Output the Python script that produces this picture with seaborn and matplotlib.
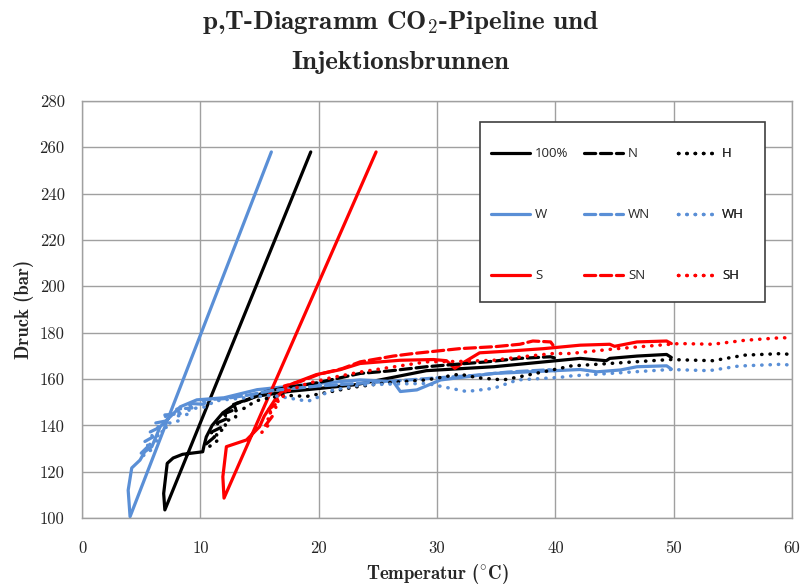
import seaborn as sns
import matplotlib.pyplot as plt
from matplotlib.lines import Line2D
from matplotlib.patches import Rectangle

# Pipeline / well curves (temperature in °C, pressure in bar)
t_100 = [49.8, 49.4, 46.9, 44.6, 44.3, 42.1, 34.8, 29.1, 23.2, 20.4, 17.6, 14.8, 13.1, 11.9, 11.0, 10.5, 10.3, 10.2, 8.5, 7.7, 7.2, 6.9, 7.0, 19.33]
p_100 = [169.3, 170.6, 169.9, 168.9, 167.9, 168.9, 165.3, 163.6, 157.6, 156.1, 154.7, 152.6, 149.6, 145.4, 140, 135, 131, 128.6, 127.5, 125.9, 123.6, 110.6, 103.5, 258]

t_n = [10.5, 11.2, 10.9, 11.7, 11.4, 12.3, 12.0, 13.0, 12.8, 14.0, 15.5, 17.0, 20.0, 23.5, 26.0, 29.1, 32.0, 34.2, 37.0, 39.6, 40.0]
p_n = [132, 135, 137, 139, 141, 143, 145, 147, 149, 151, 154.5, 156, 158.5, 162.4, 163.5, 165.3, 166.5, 167.4, 168.9, 169.6, 169.0]

t_h = [10.8, 11.6, 11.3, 12.2, 12.0, 13.0, 12.8, 13.8, 14.5, 15.0, 17.0, 19.0, 21.0, 23.0, 26.0, 29.1, 31.9, 33.5, 35.6, 37.0, 40.4, 41.25, 49.7, 53.3, 56.0, 59.3, 60.0]
p_h = [131, 134, 136.5, 139, 141.5, 143.5, 146, 147.5, 150, 151, 153, 152.5, 154.5, 156.5, 158.5, 159.6, 162.1, 160.5, 159.6, 161, 164.6, 165.6, 168.4, 167.9, 170.3, 171, 170.3]

t_w = [49.8, 49.4, 46.9, 45.5, 43.5, 42.1, 34.8, 30.3, 28.3, 26.9, 26.3, 23.5, 20.4, 17.6, 14.8, 12.0, 9.7, 8.3, 6.6, 5.9, 5.3, 4.9, 4.2, 3.9, 4.06, 16.0]
p_w = [164.3, 165.7, 165.3, 163.9, 163.1, 164.1, 162.4, 159.6, 155.3, 154.6, 158.9, 159.6, 158.3, 156.9, 155.4, 151.9, 151, 148, 139.4, 130.8, 128.6, 125, 121.6, 112, 100.6, 258]

t_wn = [5.0, 5.6, 5.3, 6.0, 5.7, 6.5, 6.2, 7.2, 7.0, 8.3, 8.0, 9.3, 9.0, 10.5, 10.2, 12.0, 14.0, 16.0, 18.0, 20.0, 23.0, 26.0, 30.0, 33.0, 36.0, 39.5, 40.0]
p_wn = [128, 131, 133, 135, 137, 139, 141, 142, 144.5, 145, 147, 147.5, 149.5, 149, 151, 151.5, 153, 155, 156, 157, 158, 159, 160.5, 161.5, 163, 164, 163.5]

t_wh = [5.2, 6.0, 5.7, 6.6, 6.3, 7.2, 7.0, 8.2, 8.0, 9.2, 9.0, 10.5, 11.2, 12.0, 14.0, 16.0, 18.4, 19.0, 19.5, 21.0, 23.5, 26.0, 29.1, 32.5, 34.8, 36.8, 40.4, 41.25, 49.7, 53.0, 55.5, 59.3, 60.0]
p_wh = [127, 130, 132, 134, 136.5, 138, 140.5, 142, 144, 145, 147, 148, 150.5, 151, 152, 153, 151, 150.4, 151, 155, 157.4, 157.8, 158.1, 154.6, 156, 159.6, 160.7, 161.3, 164.1, 163.6, 165.6, 166.4, 165.7]

t_s = [49.8, 49.4, 46.9, 45.0, 44.6, 42.1, 39.0, 36.2, 33.6, 32.2, 31.5, 30.8, 29.7, 26.9, 23.5, 21.8, 19.8, 17.6, 16.5, 15.4, 15.0, 13.9, 12.2, 11.9, 12.0, 24.85]
p_s = [175.3, 176.4, 176, 174.1, 175, 174.6, 173.1, 172.1, 171.3, 167, 164.6, 167.9, 168.4, 168.1, 166.7, 164, 161.9, 157.6, 152.6, 144, 139.4, 133.7, 130.8, 117.8, 108.6, 258]

t_sn = [15.5, 16.1, 15.8, 16.6, 16.4, 17.3, 17.1, 18.5, 20.0, 22.0, 23.5, 26.3, 28.0, 31.9, 35.0, 37.0, 38.1, 39.6, 39.8]
p_sn = [140, 144, 147, 150, 152.5, 155, 157, 159, 162, 164.5, 167.4, 169.9, 171, 173.1, 174, 175, 176.4, 176, 174.6]

t_sh = [15.2, 15.9, 15.6, 16.4, 16.2, 17.0, 17.5, 19.0, 21.0, 23.5, 26.0, 29.1, 32.0, 34.8, 37.0, 39.8, 41.25, 45, 49.7, 50.5, 53.3, 56.0, 59.3, 59.9]
p_sh = [137, 141, 144, 147.5, 150, 152.5, 155, 158, 160.5, 163, 165, 167.4, 167.6, 168.1, 169.5, 171, 171, 173, 175, 175.3, 175, 176.7, 177.9, 177]

blue = '#5A8FD6'
red = '#FF0000'
black = '#000000'
solid = '-'
dashed = (0, (3.5, 1.5))
dotted = (0, (0.1, 2.3))

# legend columns: solid / dashed (N) / dotted (H)
columns = [
    [('100%', t_100, p_100, black), ('W', t_w, p_w, blue), ('S', t_s, p_s, red)],
    [('N', t_n, p_n, black), ('WN', t_wn, p_wn, blue), ('SN', t_sn, p_sn, red)],
    [('H', t_h, p_h, black), ('WH', t_wh, p_wh, blue), ('SH', t_sh, p_sh, red)],
]
col_styles = [solid, dashed, dotted]

sns.set_style('white')
plt.rcParams['font.family'] = ['cmr10', 'DejaVu Serif']
plt.rcParams['mathtext.fontset'] = 'cm'
plt.rcParams['axes.unicode_minus'] = False

fig = plt.figure(figsize=(8.01, 5.87), dpi=100)
ax = fig.add_axes([0.1024, 0.1175, 0.8864, 0.7105])

col_handles = []
for ls, col in zip(col_styles, columns):
    lw = 2.5 if ls == dotted else 2.3
    hs = []
    for name, t, p, c in col:
        sns.lineplot(x=t, y=p, sort=False, estimator=None, color=c, linestyle=ls,
                     linewidth=lw, dash_capstyle='round', ax=ax)
        hs.append(Line2D([], [], color=c, linestyle=ls, linewidth=lw,
                         dash_capstyle='round', label=name))
    col_handles.append(hs)

ax.set_xlim(0, 60)
ax.set_ylim(100, 280)
ax.set_xticks(range(0, 61, 10))
ax.set_yticks(range(100, 281, 20))
ax.grid(True, color='#A0A0A0', linewidth=1.0)
ax.set_axisbelow(True)
for sp in ax.spines.values():
    sp.set_color('#A0A0A0')
    sp.set_linewidth(1.0)
ax.tick_params(axis='both', which='major', direction='out', length=4.5, width=1.0,
               color='#A0A0A0', labelsize=12)
ax.tick_params(axis='x', pad=12)
ax.tick_params(axis='y', pad=8)

ax.set_xlabel(r'Temperatur ($^{\circ}$C)', fontfamily='cmb10', fontsize=13.5, labelpad=4)
ax.set_ylabel('Druck (bar)', fontfamily='cmb10', fontsize=13.5, labelpad=4)

fig.text(0.5, 0.962, r'p,T-Diagramm CO$_\mathbf{2}$-Pipeline und', ha='center', va='center',
         fontfamily='cmb10', fontsize=19.5)
fig.text(0.5, 0.893, 'Injektionsbrunnen', ha='center', va='center',
         fontfamily='cmb10', fontsize=19.5)

# legend box and three fixed-width columns
ax.add_patch(Rectangle((0.56, 0.518), 0.402, 0.432, transform=ax.transAxes,
                       facecolor='white', edgecolor='#404040', linewidth=1.2,
                       zorder=5))
for x0, hs in zip([0.576, 0.707, 0.839], col_handles):
    leg = ax.legend(handles=hs, loc='center left', bbox_to_anchor=(x0, 0.727),
                    prop={'family': 'Open Sans', 'size': 9.5}, frameon=False,
                    handlelength=2.95, handletextpad=0.4, labelspacing=3.63,
                    borderpad=0, borderaxespad=0)
    leg.set_zorder(6)
    ax.add_artist(leg)

fig.savefig('out.png', dpi=100)
